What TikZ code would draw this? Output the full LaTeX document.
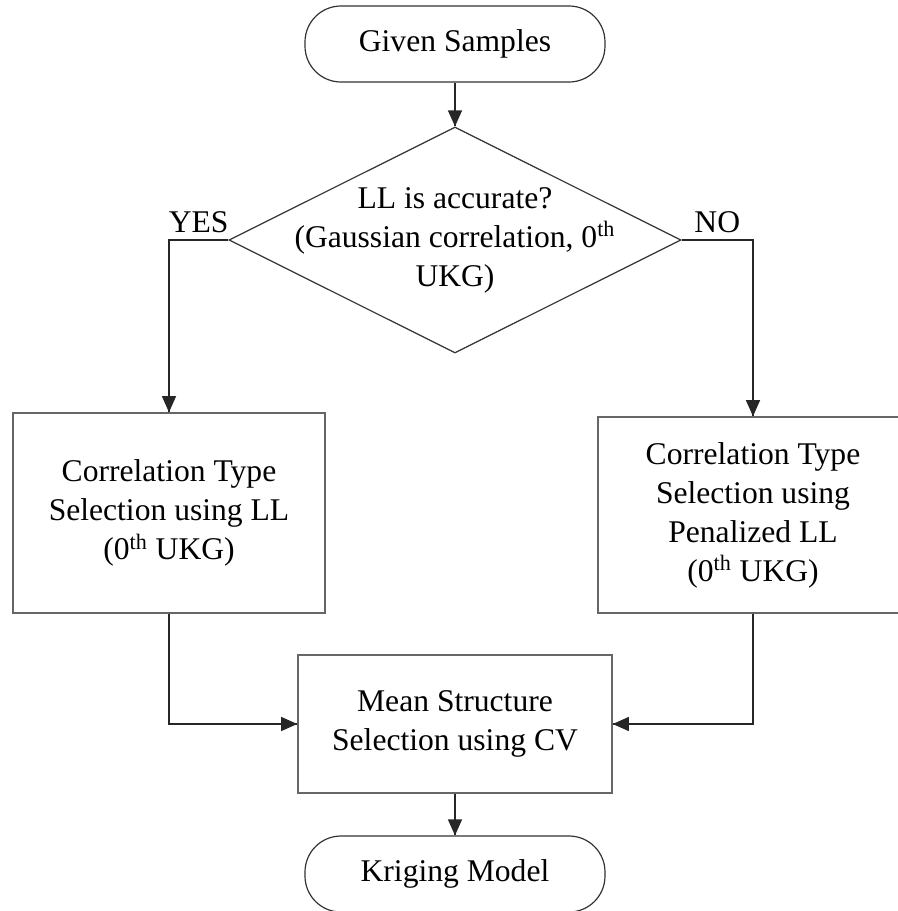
\documentclass[tikz,border=0pt]{standalone}
\usepackage{fontspec}
\setmainfont{Liberation Serif}
\usetikzlibrary{shapes.geometric,arrows.meta,decorations.markings}

\begin{document}
\begin{tikzpicture}[node distance=98pt, auto, font=\fontsize{15.8}{19.5}\selectfont,
  term/.style={draw=black!80, line width=0.6pt, rounded corners=18pt, minimum width=150pt, minimum height=38pt},
  box/.style={draw=black!60, line width=0.8pt, align=center, inner sep=0pt},
  flow/.style={draw=black!85, line width=0.6pt, decoration={markings,mark=at position 1 with {\arrow{Triangle[length=8pt,width=7pt]}}},postaction={decorate}}]
\useasboundingbox (-227.5pt,22pt) rectangle (221.5pt,-433.5pt);
\node (given) [term] {Given Samples};
\node (ll) [diamond, draw=black!80, line width=0.6pt, aspect=2, minimum width=226pt, minimum height=113pt, inner sep=0pt, below of = given] {};
\node (lltext) [align=center] at (ll) {LL is accurate?\\(Gaussian correlation, 0\textsuperscript{th}\\UKG)};
\node (yesbox) [box, minimum width=156pt, minimum height=100pt, below of = ll, node distance=136.5pt, xshift=-143pt] {Correlation Type\\Selection using LL\\(0\textsuperscript{th} UKG)};
\node (nobox) [box, minimum width=155pt, minimum height=98pt, below of = ll, node distance=137.5pt, xshift=149pt] {Correlation Type\\Selection using\\Penalized LL\\(0\textsuperscript{th} UKG)};
\node (mean) [box, minimum width=157pt, minimum height=69pt, below of = ll, node distance=242pt] {Mean Structure\\Selection using CV};
\node (krig) [term, below of = mean, node distance=75pt] {Kriging Model};
\draw[flow] (given) -- (ll);
\draw[flow] (ll.west) -| node[pos=0.25, above] {YES} (yesbox.north);
\draw[flow] (ll.east) -| node[pos=0.25, above] {NO} (nobox.north);
\draw[flow] (yesbox.south) |- (mean.west);
\draw[flow] (nobox.south) |- (mean.east);
\draw[flow] (mean) -- (krig);
\end{tikzpicture}
\end{document}
